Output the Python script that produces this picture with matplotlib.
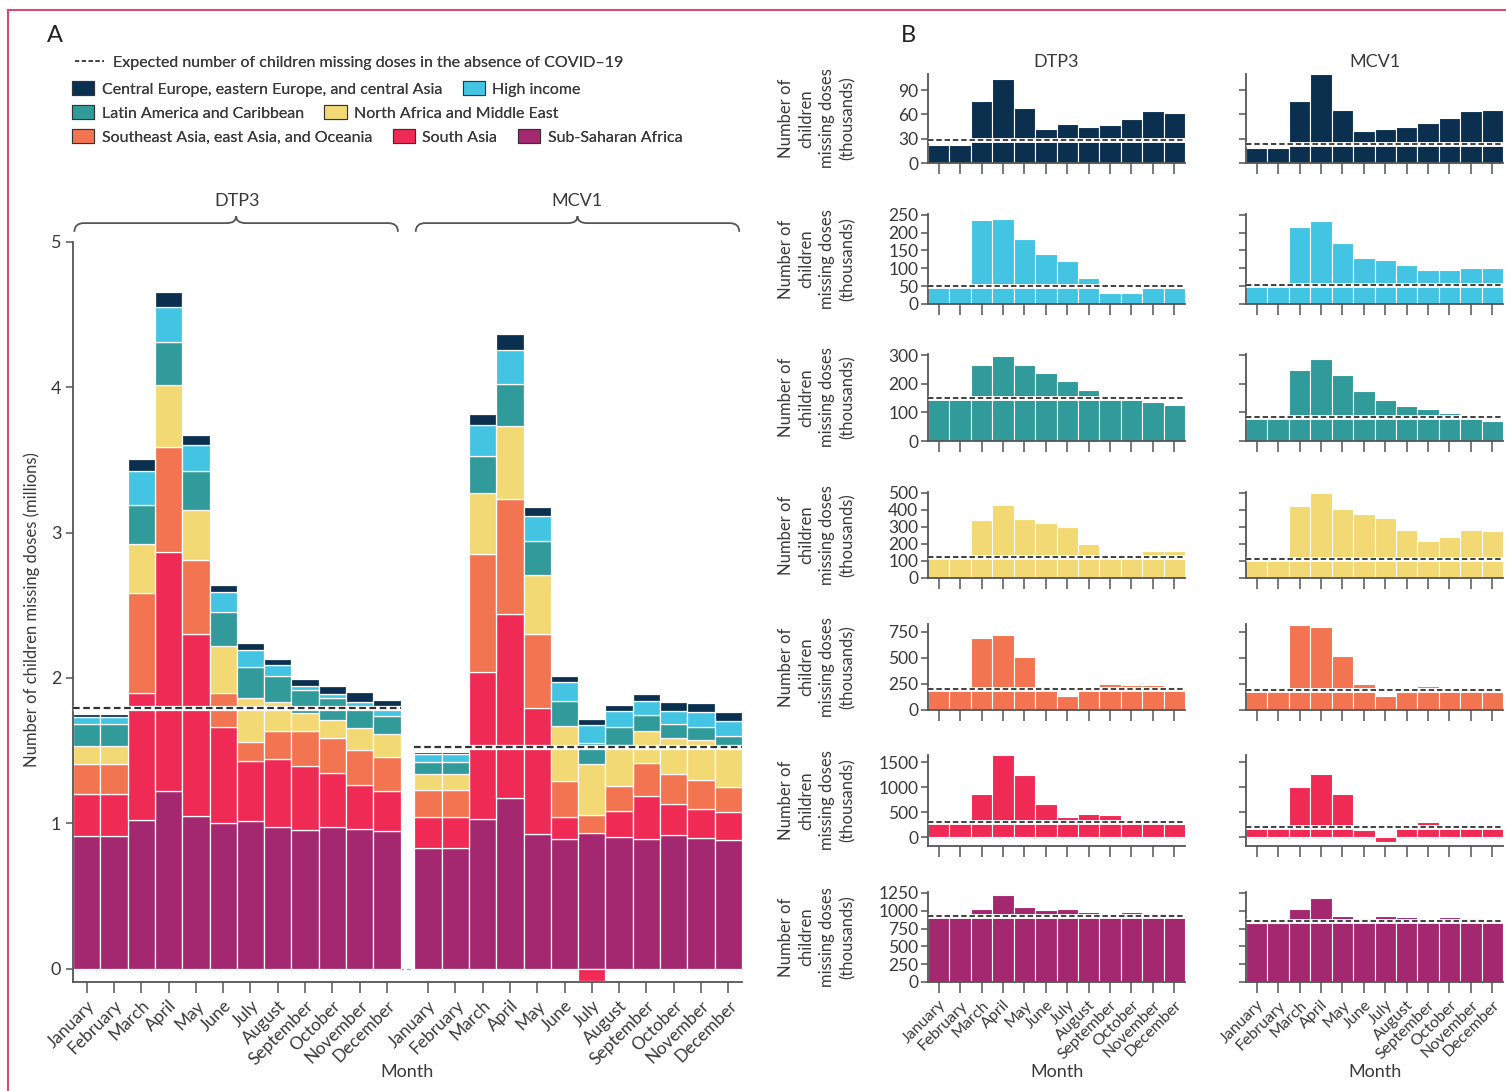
import numpy as np
import matplotlib
matplotlib.use('Agg')
import matplotlib.pyplot as plt
from matplotlib.patches import Patch, PathPatch
from matplotlib.lines import Line2D
from matplotlib.path import Path

plt.rcParams['font.family'] = ['Lato', 'DejaVu Sans']

months = ['January', 'February', 'March', 'April', 'May', 'June', 'July',
          'August', 'September', 'October', 'November', 'December']

regions = ['Central Europe, eastern Europe, and central Asia', 'High income',
           'Latin America and Caribbean', 'North Africa and Middle East',
           'Southeast Asia, east Asia, and Oceania', 'South Asia', 'Sub-Saharan Africa']
colors = ['#0b2f4f', '#43c4e3', '#319a9a', '#f2d974', '#f27450', '#ee2a55', '#a3286f']

# children missing doses, thousands
dtp3_central_europe = [22, 22, 77, 104, 68, 42, 48, 45, 47, 55, 64, 62]
dtp3_high_income = [50, 50, 236, 238, 181, 139, 120, 74, 32, 30, 45, 46]
dtp3_latin_america = [147, 147, 266, 299, 267, 237, 212, 178, 160, 150, 135, 127]
dtp3_north_africa = [125, 125, 338, 426, 345, 324, 300, 200, 120, 125, 156, 160]
dtp3_southeast_asia = [205, 205, 688, 720, 510, 229, 132, 197, 245, 240, 235, 233]
dtp3_south_asia = [295, 295, 875, 1648, 1250, 662, 412, 465, 440, 368, 305, 276]
dtp3_sub_saharan = [910, 910, 1024, 1220, 1050, 1004, 1018, 975, 951, 978, 962, 944]

mcv1_central_europe = [18, 18, 77, 110, 65, 40, 42, 44, 50, 56, 64, 66]
mcv1_high_income = [56, 56, 216, 232, 172, 128, 122, 108, 94, 95, 100, 101]
mcv1_latin_america = [82, 82, 250, 289, 232, 175, 144, 124, 112, 97, 90, 69]
mcv1_north_africa = [110, 110, 420, 502, 405, 378, 350, 280, 220, 242, 280, 278]
mcv1_southeast_asia = [185, 185, 813, 797, 513, 250, 130, 175, 225, 210, 195, 176]
mcv1_south_asia = [210, 210, 1013, 1262, 865, 147, -88, 179, 300, 215, 200, 195]
mcv1_sub_saharan = [832, 832, 1030, 1175, 925, 895, 930, 905, 890, 917, 901, 882]

# expected without COVID-19, thousands (region order as above)
dtp3_expected = [28, 51, 152, 121, 204, 317, 920]
mcv1_expected = [23, 54, 84, 113, 195, 205, 850]

dtp3 = [dtp3_central_europe, dtp3_high_income, dtp3_latin_america, dtp3_north_africa,
        dtp3_southeast_asia, dtp3_south_asia, dtp3_sub_saharan]
mcv1 = [mcv1_central_europe, mcv1_high_income, mcv1_latin_america, mcv1_north_africa,
        mcv1_southeast_asia, mcv1_south_asia, mcv1_sub_saharan]

W, H = 1506, 1091
fig = plt.figure(figsize=(W / 100, H / 100), dpi=100)

def box(left, top, right, bottom):
  return [left / W, 1 - bottom / H, (right - left) / W, (bottom - top) / H]

AXC = '#555555'
TXT = '#3a3a3a'

def style_axes(ax):
  for s in ['top', 'right']:
    ax.spines[s].set_visible(False)
  for s in ['left', 'bottom']:
    ax.spines[s].set_color(AXC)
    ax.spines[s].set_linewidth(1.3)
  ax.tick_params(colors=AXC, labelcolor=TXT, width=1.1)

def expected_line(ax, x0, x1, y, lw=1.4):
  ax.plot([x0, x1], [y, y], color='white', lw=lw + 2.2, solid_capstyle='butt', zorder=5)
  ax.plot([x0, x1], [y, y], color='#333333', lw=lw, ls=(0, (3, 1.6)), zorder=6)

# ---------------- panel A ----------------
axA = fig.add_axes(box(73, 242, 742, 982))
style_axes(axA)
x_d = np.arange(12)
x_m = np.arange(12) + 12.5
axA.axhline(0, color='#aaaaaa', lw=1, ls=(0, (3, 2)), zorder=0)
for series, xs in [(dtp3, x_d), (mcv1, x_m)]:
  pos = np.zeros(12)
  neg = np.zeros(12)
  for vals, c in zip(series[::-1], colors[::-1]):
    v = np.array(vals) / 1000
    bottom = np.where(v >= 0, pos, neg)
    axA.bar(xs, v, bottom=bottom, width=1.0, color=c, edgecolor='white', linewidth=0.9, zorder=2)
    pos += np.clip(v, 0, None)
    neg += np.clip(v, None, 0)
expected_line(axA, -0.5, 11.5, sum(dtp3_expected) / 1000, lw=1.6)
expected_line(axA, 12.0, 24.0, sum(mcv1_expected) / 1000, lw=1.6)
axA.set_xlim(-0.5, 24.0)
axA.set_ylim(-0.092, 5)
axA.set_yticks([0, 1, 2, 3, 4, 5])
axA.tick_params(axis='y', length=5, labelsize=13)
axA.set_xticks(np.concatenate([x_d, x_m]))
axA.set_xticklabels(months + months, rotation=45, ha='right', rotation_mode='anchor', fontsize=12.5)
axA.tick_params(axis='x', length=8, pad=3)
fig.text(407 / W, 1 - 1072 / H, 'Month', ha='center', va='center', fontsize=13, color=TXT)
fig.text(32 / W, 1 - 610 / H, 'Number of children missing doses (millions)', rotation=90,
         ha='center', va='center', fontsize=12, color=TXT)

def brace(ax, x0, x1, y, h):
  xm = (x0 + x1) / 2
  e = 0.35
  verts = [(x0, y - h), (x0, y), (x0 + e, y), (xm - e, y), (xm, y), (xm, y + h * 0.8),
           (xm, y), (xm + e, y), (x1 - e, y), (x1, y), (x1, y - h)]
  codes = [Path.MOVETO, Path.CURVE3, Path.CURVE3, Path.LINETO, Path.CURVE3, Path.CURVE3,
           Path.CURVE3, Path.CURVE3, Path.LINETO, Path.CURVE3, Path.CURVE3]
  ax.add_patch(PathPatch(Path(verts, codes), fill=False, edgecolor='#555555', lw=1.3, clip_on=False))

brace(axA, -0.45, 11.4, 5.13, 0.06)
brace(axA, 12.05, 23.9, 5.13, 0.06)
axA.text(5.5, 5.28, 'DTP3', ha='center', va='center', fontsize=13, color=TXT)
axA.text(17.95, 5.28, 'MCV1', ha='center', va='center', fontsize=13, color=TXT)

# legend rows
leg_kw = dict(frameon=False, fontsize=11.5, loc='center left', borderaxespad=0, borderpad=0,
              handlelength=1.4, handleheight=1.0, handletextpad=0.45, columnspacing=1.3,
              labelcolor=TXT)
l0 = fig.legend([Line2D([], [], color='#444444', lw=1.2, ls=(0, (2.5, 1.6)))],
                ['Expected number of children missing doses in the absence of COVID\u201319'],
                bbox_to_anchor=(75 / W, 1 - 62 / H), **dict(leg_kw, handlelength=1.8, handletextpad=0.6))
fig.add_artist(l0)
rows_leg = [[0, 1], [2, 3], [4, 5, 6]]
for r, idx in enumerate(rows_leg):
  hs = [Patch(facecolor=colors[i], edgecolor='#333333', linewidth=0.8) for i in idx]
  lg = fig.legend(hs, [regions[i] for i in idx], ncol=len(idx),
                  bbox_to_anchor=(72 / W, 1 - (89 + 24 * r) / H), **leg_kw)
  fig.add_artist(lg)

fig.text(55 / W, 1 - 35 / H, 'A', fontsize=17, color='#222222', ha='center', va='center')
fig.text(908 / W, 1 - 35 / H, 'B', fontsize=17, color='#222222', ha='center', va='center')

# ---------------- panel B ----------------
row_top = [74, 214, 354, 492, 624, 755, 892]
row_bot = [163, 304, 441, 578, 710, 846, 982]
row_ticks = [[0, 30, 60, 90], [0, 50, 100, 150, 200, 250], [0, 100, 200, 300],
             [0, 100, 200, 300, 400, 500], [0, 250, 500, 750], [0, 500, 1000, 1500],
             [0, 250, 500, 750, 1000, 1250]]
row_ylim = [(0, 110), (0, 252), (0, 305), (0, 505), (0, 822), (-172, 1650), (0, 1262)]
cols = [(928, 1185, dtp3, dtp3_expected, 'DTP3'), (1246, 1503, mcv1, mcv1_expected, 'MCV1')]

for ci, (left, right, series, expected, title) in enumerate(cols):
  for r in range(7):
    ax = fig.add_axes(box(left, row_top[r], right, row_bot[r]))
    style_axes(ax)
    ax.axhline(0, color='#aaaaaa', lw=1, ls=(0, (3, 2)), zorder=0)
    ax.bar(np.arange(12), series[r], width=1.0, color=colors[r], edgecolor='white', linewidth=0.8, zorder=2)
    expected_line(ax, -0.5, 11.5, expected[r], lw=1.3)
    ax.set_xlim(-0.5, 11.5)
    ax.set_ylim(*row_ylim[r])
    ax.set_yticks(row_ticks[r])
    ax.tick_params(axis='y', length=5, labelsize=12.5, pad=2)
    ax.set_xticks(np.arange(12))
    ax.tick_params(axis='x', length=8)
    if ci == 1:
      ax.set_yticklabels([])
    if r < 6:
      ax.set_xticklabels([])
    else:
      ax.set_xticklabels(months, rotation=45, ha='right', rotation_mode='anchor', fontsize=11.5)
      fig.text((left + right) / 2 / W, 1 - 1072 / H, 'Month', ha='center', va='center',
               fontsize=13, color=TXT)
    if r == 0:
      fig.text((left + right) / 2 / W, 1 - 62 / H, title, ha='center', va='center',
               fontsize=13, color=TXT)
    if ci == 0:
      yc = (row_top[r] + row_bot[r]) / 2
      fig.text(817 / W, 1 - yc / H, 'Number of\nchildren\nmissing doses\n(thousands)', rotation=90,
               ha='center', va='center', multialignment='center', fontsize=12, color=TXT,
               linespacing=1.35)

# frame lines
fig.add_artist(Line2D([8 / W, 1], [1 - 10 / H, 1 - 10 / H], color='#d94a72', lw=1.5))
fig.add_artist(Line2D([8 / W, 8 / W], [0, 1 - 10 / H], color='#d94a72', lw=1.5))

fig.savefig('out.png', dpi=100)
